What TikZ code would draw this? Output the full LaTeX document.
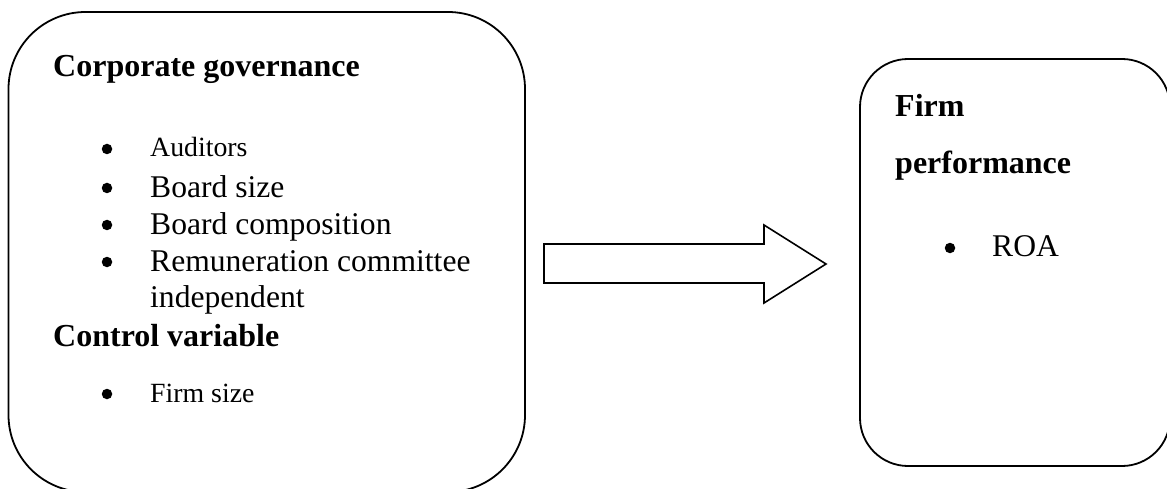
\documentclass[tikz,border=0pt]{standalone}
\usepackage{fontspec}
\setmainfont{Liberation Serif}
\begin{document}
\begin{tikzpicture}[x=1pt,y=-1pt,
  box/.style={draw, line width=1.8pt, rounded corners=#1},
  head/.style={anchor=base west, inner sep=0, font=\bfseries\fontsize{32}{36}\selectfont},
  item/.style={anchor=base west, inner sep=0, font=\fontsize{31.6}{36}\selectfont},
  small/.style={anchor=base west, inner sep=0, font=\fontsize{27.8}{32}\selectfont},
  dot/.style={circle, fill, inner sep=0, minimum size=10.5pt},
  blockarrow/.style={draw, line width=1.6pt, line join=miter}]
\useasboundingbox (0,0) rectangle (1167,489);
\clip (0,0) rectangle (1167,489);
% boxes
\draw[box=77pt] (8.5,12) rectangle (525,492);
\draw[box=48pt] (860,59) rectangle (1170,466);
% block arrow
\draw[blockarrow] (544,244) -- (764,244) -- (764,225) -- (826,264) -- (764,303) -- (764,283) -- (544,283) -- cycle;
% left box text
\node[head] (cg) at (53,77) {Corporate governance};
\node[dot] (b1) at (107,149) {};
\node[small] (t1) at (150,157) {Auditors};
\node[dot] (b2) at (107,188) {};
\node[item] (t2) at (150,197) {Board size};
\node[dot] (b3) at (107,225) {};
\node[item] (t3) at (150,234) {Board composition};
\node[dot] (b4) at (107,262) {};
\node[item] (t4) at (150,271) {Remuneration committee};
\node[item] (t5) at (150,307) {independent};
\node[head] (cv) at (53,346) {Control variable};
\node[dot] (b6) at (107,394) {};
\node[small] (t6) at (150,402) {Firm size};
% right box text
\node[head] (fp1) at (895,117) {Firm};
\node[head] (fp2) at (895,174) {performance};
\node[dot] (b7) at (950,248) {};
\node[item] (t7) at (992,256) {ROA};
\end{tikzpicture}
\end{document}
